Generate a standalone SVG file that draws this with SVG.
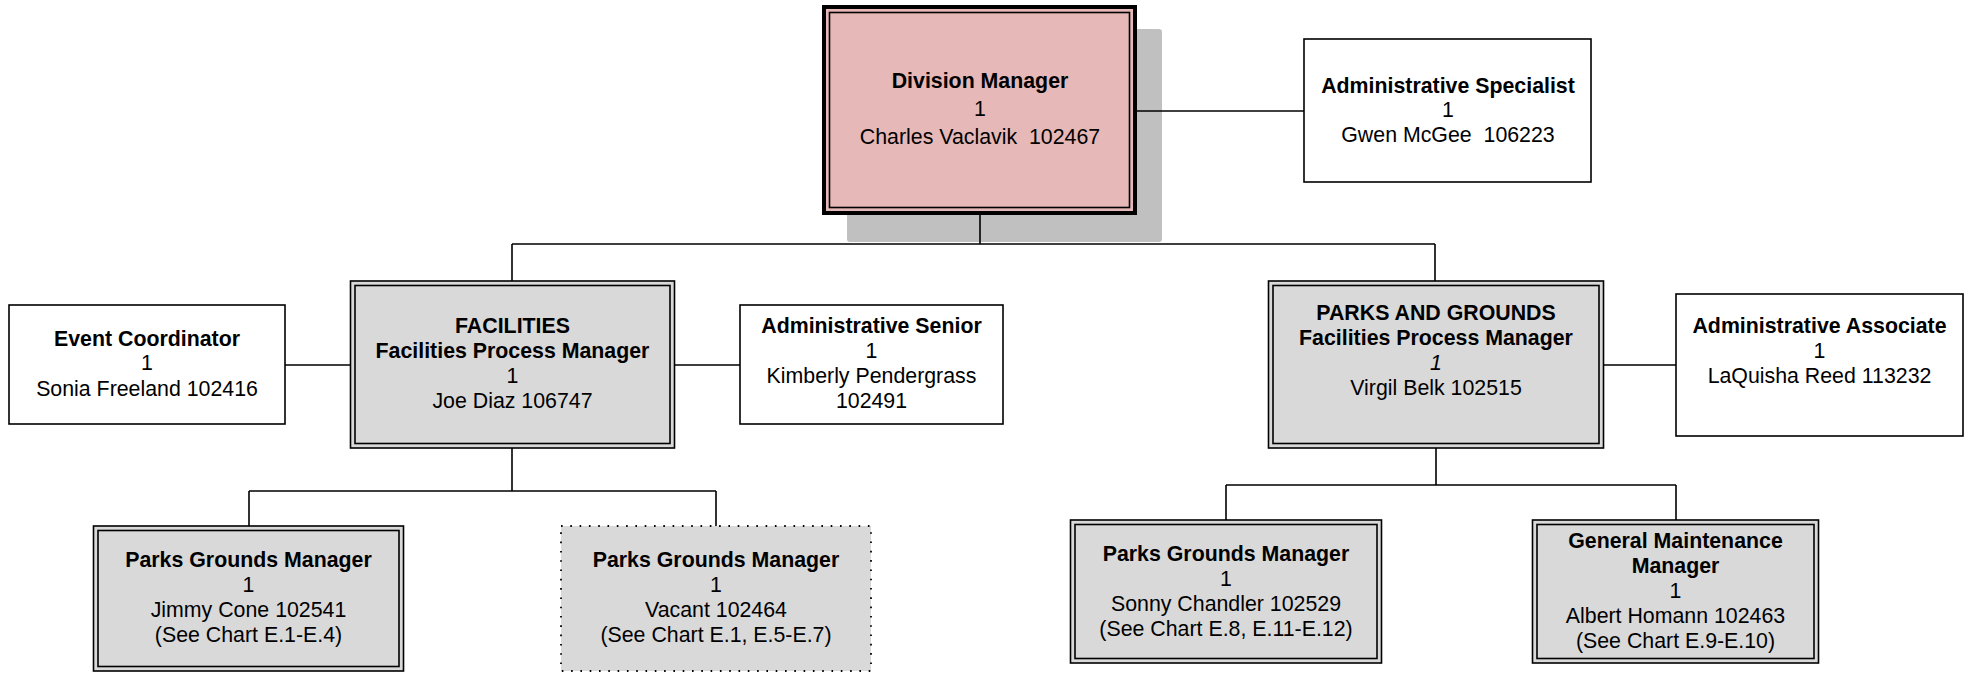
<svg xmlns="http://www.w3.org/2000/svg" width="1974" height="673" viewBox="0 0 1974 673">
<style>
text{font-family:"Liberation Sans",Arial,sans-serif;font-size:21.33px;fill:#000;text-anchor:middle}
.b{font-weight:bold}
.i{font-style:italic}
.plain{fill:#fff;stroke:#000;stroke-width:1.6}
.dbl{fill:#d9d9d9;stroke:#000;stroke-width:1.6}
.dblin{fill:none;stroke:#000;stroke-width:1.6}
.dot{fill:#d9d9d9;stroke:#000;stroke-width:1.8;stroke-dasharray:1.6 7.7}
.conn{fill:none;stroke:#000;stroke-width:1.6}
</style>
<g id="division-manager">
<rect x="847" y="29" width="315" height="213" rx="3" fill="#c0c0c0"/>
<rect x="824" y="7" width="311" height="206" fill="#e6b8b7" stroke="#000" stroke-width="4"/>
<rect x="829.5" y="12.5" width="300" height="195" fill="none" stroke="#000" stroke-width="1.6"/>
<text class="b" x="980" y="88">Division Manager</text>
<text x="980" y="116">1</text>
<text x="980" y="144" xml:space="preserve">Charles Vaclavik  102467</text>
</g>
<g id="administrative-specialist">
<rect class="plain" x="1304" y="39" width="287" height="143"/>
<text class="b" x="1448" y="93">Administrative Specialist</text>
<text x="1448" y="117">1</text>
<text x="1448" y="142" xml:space="preserve">Gwen McGee  106223</text>
</g>
<g id="event-coordinator">
<rect class="plain" x="9" y="305" width="276" height="119"/>
<text class="b" x="147" y="346">Event Coordinator</text>
<text x="147" y="370">1</text>
<text x="147" y="396">Sonia Freeland 102416</text>
</g>
<g id="facilities">
<rect class="dbl" x="350.5" y="281" width="324" height="167"/>
<rect class="dblin" x="355" y="285.5" width="315" height="158"/>
<text class="b" x="512.5" y="333">FACILITIES</text>
<text class="b" x="512.5" y="358">Facilities Process Manager</text>
<text x="512.5" y="383">1</text>
<text x="512.5" y="408">Joe Diaz 106747</text>
</g>
<g id="administrative-senior">
<rect class="plain" x="740" y="305" width="263" height="119"/>
<text class="b" x="871.5" y="333">Administrative Senior</text>
<text x="871.5" y="358">1</text>
<text x="871.5" y="383">Kimberly Pendergrass</text>
<text x="871.5" y="408">102491</text>
</g>
<g id="parks-and-grounds">
<rect class="dbl" x="1268.5" y="281" width="335" height="167"/>
<rect class="dblin" x="1273" y="285.5" width="326" height="158"/>
<text class="b" x="1436" y="320">PARKS AND GROUNDS</text>
<text class="b" x="1436" y="345">Facilities Process Manager</text>
<text class="i" x="1436" y="370">1</text>
<text x="1436" y="395">Virgil Belk 102515</text>
</g>
<g id="administrative-associate">
<rect class="plain" x="1676" y="294" width="287" height="142"/>
<text class="b" x="1819.5" y="333">Administrative Associate</text>
<text x="1819.5" y="358">1</text>
<text x="1819.5" y="383">LaQuisha Reed 113232</text>
</g>
<g id="parks-grounds-manager-cone">
<rect class="dbl" x="93.5" y="526" width="310" height="145"/>
<rect class="dblin" x="98" y="530.5" width="301" height="136"/>
<text class="b" x="248.5" y="567">Parks Grounds Manager</text>
<text x="248.5" y="592">1</text>
<text x="248.5" y="617">Jimmy Cone 102541</text>
<text x="248.5" y="642">(See Chart E.1-E.4)</text>
</g>
<g id="parks-grounds-manager-vacant">
<rect class="dot" x="561" y="526" width="310" height="145"/>
<text class="b" x="716" y="567">Parks Grounds Manager</text>
<text x="716" y="592">1</text>
<text x="716" y="617">Vacant 102464</text>
<text x="716" y="642">(See Chart E.1, E.5-E.7)</text>
</g>
<g id="parks-grounds-manager-chandler">
<rect class="dbl" x="1070.5" y="520" width="311" height="143"/>
<rect class="dblin" x="1075" y="524.5" width="302" height="134"/>
<text class="b" x="1226" y="561">Parks Grounds Manager</text>
<text x="1226" y="586">1</text>
<text x="1226" y="611">Sonny Chandler 102529</text>
<text x="1226" y="636">(See Chart E.8, E.11-E.12)</text>
</g>
<g id="general-maintenance-manager">
<rect class="dbl" x="1532.5" y="520" width="286" height="143"/>
<rect class="dblin" x="1537" y="524.5" width="277" height="134"/>
<text class="b" x="1675.5" y="548">General Maintenance</text>
<text class="b" x="1675.5" y="573">Manager</text>
<text x="1675.5" y="598">1</text>
<text x="1675.5" y="623">Albert Homann 102463</text>
<text x="1675.5" y="648">(See Chart E.9-E.10)</text>
</g>
<g id="connectors">
<path class="conn" d="M1137 111H1304"/>
<path class="conn" d="M980 215V244M512 244H1435M512 244V281M1435 244V281"/>
<path class="conn" d="M285 365H350M675 365H740M1604 365H1676"/>
<path class="conn" d="M512 448V491M249 491H716M249 491V526M716 491V526"/>
<path class="conn" d="M1436 448V485M1226 485H1676M1226 485V520M1676 485V520"/>
</g>
</svg>
